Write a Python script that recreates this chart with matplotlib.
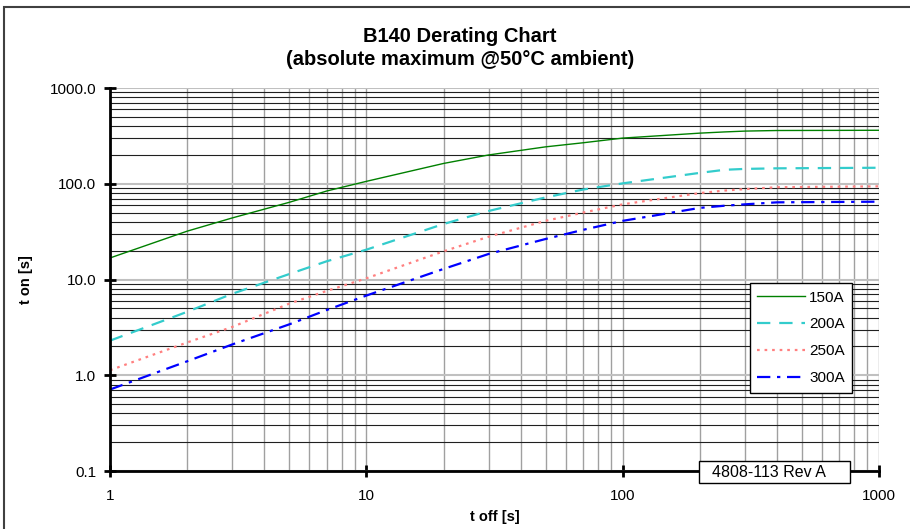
import matplotlib
matplotlib.use("Agg")
import matplotlib.pyplot as plt
from matplotlib.patches import Rectangle
from matplotlib.ticker import FixedLocator, LogLocator, NullFormatter

plt.rcParams['font.family'] = ['Liberation Sans', 'DejaVu Sans']

# t off [s] sample points and t on [s] per current
t_off = [1, 2, 3, 5, 7, 10, 20, 30, 50, 70, 100, 200, 250, 300, 400, 1000]
t_on_150 = [16.8, 32, 44, 64, 84, 106, 163, 200, 243, 268, 300, 338, 348, 355, 360, 362]
t_on_200 = [2.3, 4.6, 7.1, 11.4, 15.5, 20.5, 38, 52, 72, 87, 101, 130, 140, 143, 145, 147]
t_on_250 = [1.13, 2.2, 3.2, 5.6, 7.6, 10.3, 19.7, 28, 41, 50, 61, 80, 85, 88, 92, 94]
t_on_300 = [0.71, 1.4, 2.1, 3.4, 4.8, 6.8, 12.9, 18.5, 26.5, 33, 41, 56, 59, 61, 64, 65]

labels = ['150A', '200A', '250A', '300A']
colors = ['#008000', '#33CCCC', '#FF8080', '#0000FF']

fig = plt.figure(figsize=(9.1, 5.29), dpi=100)
ax = fig.add_axes([0.1209, 0.1096, 0.966 - 0.1209, 0.8336 - 0.1096])

ax.plot(t_off, t_on_150, color=colors[0], lw=1.0, label=labels[0])
ax.plot(t_off, t_on_200, color=colors[1], lw=1.6, dashes=(6, 4), label=labels[1])
ax.plot(t_off, t_on_250, color=colors[2], lw=1.6, dashes=(1.2, 2.2), label=labels[2])
ax.plot(t_off, t_on_300, color=colors[3], lw=1.6, dashes=(6, 3, 1.5, 3), label=labels[3])

ax.set_xscale('log')
ax.set_yscale('log')
ax.set_xlim(1, 1000)
ax.set_ylim(0.1, 1000)

ax.xaxis.set_major_locator(FixedLocator([1, 10, 100, 1000]))
ax.set_xticklabels(['1', '10', '100', '1000'])
ax.yaxis.set_major_locator(FixedLocator([0.1, 1, 10, 100, 1000]))
ax.set_yticklabels(['0.1', '1.0', '10.0', '100.0', '1000.0'])
ax.xaxis.set_minor_locator(LogLocator(base=10, subs=range(2, 10)))
ax.yaxis.set_minor_locator(LogLocator(base=10, subs=range(2, 10)))
ax.xaxis.set_minor_formatter(NullFormatter())
ax.yaxis.set_minor_formatter(NullFormatter())

ax.grid(True, which='major', axis='x', color='#a0a0a0', lw=1.0)
ax.grid(True, which='minor', axis='x', color='#a0a0a0', lw=1.0)
ax.grid(True, which='major', axis='y', color='#c0c0c0', lw=1.5)
ax.grid(True, which='minor', axis='y', color='#202020', lw=0.8)
ax.set_axisbelow(True)

for s in ['top', 'right']:
    ax.spines[s].set_visible(False)
for s in ['left', 'bottom']:
    ax.spines[s].set_linewidth(2.0)
ax.tick_params(which='major', direction='inout', length=8, width=2, labelsize=11)
ax.tick_params(which='minor', length=0)
ax.tick_params(axis='x', pad=9)
ax.tick_params(axis='y', pad=6)

ax.set_xlabel('t off [s]', fontsize=10.5, fontweight='bold', labelpad=5)
ax.set_ylabel('t on [s]', fontsize=10.5, fontweight='bold', labelpad=12)
fig.text(0.5055, 0.909, 'B140 Derating Chart\n(absolute maximum @50°C ambient)',
         ha='center', va='center', fontsize=14.5, fontweight='bold', linespacing=1.3)

leg = ax.legend(loc='upper left', bbox_to_anchor=(0.8316, 0.491), fontsize=11,
                handlelength=3.1, labelspacing=0.84, borderpad=0.5, handletextpad=0.3,
                fancybox=False, framealpha=1, edgecolor='black', borderaxespad=0)
leg.get_frame().set_linewidth(1.0)

ax.add_patch(Rectangle((0.766, -0.031), 0.196, 0.057, transform=ax.transAxes,
                       facecolor='white', edgecolor='black', lw=1.0, clip_on=False, zorder=9))
ax.text(0.783, -0.004, '4808-113 Rev A', transform=ax.transAxes, ha='left', va='center',
        fontsize=11.5, zorder=10, clip_on=False)

fig.patches.append(Rectangle((0.004, -0.01), 1.0, 1.0 - 0.004 + 0.001, transform=fig.transFigure,
                             fill=False, edgecolor='#404040', lw=1.5))

fig.savefig('out.png', dpi=100)
